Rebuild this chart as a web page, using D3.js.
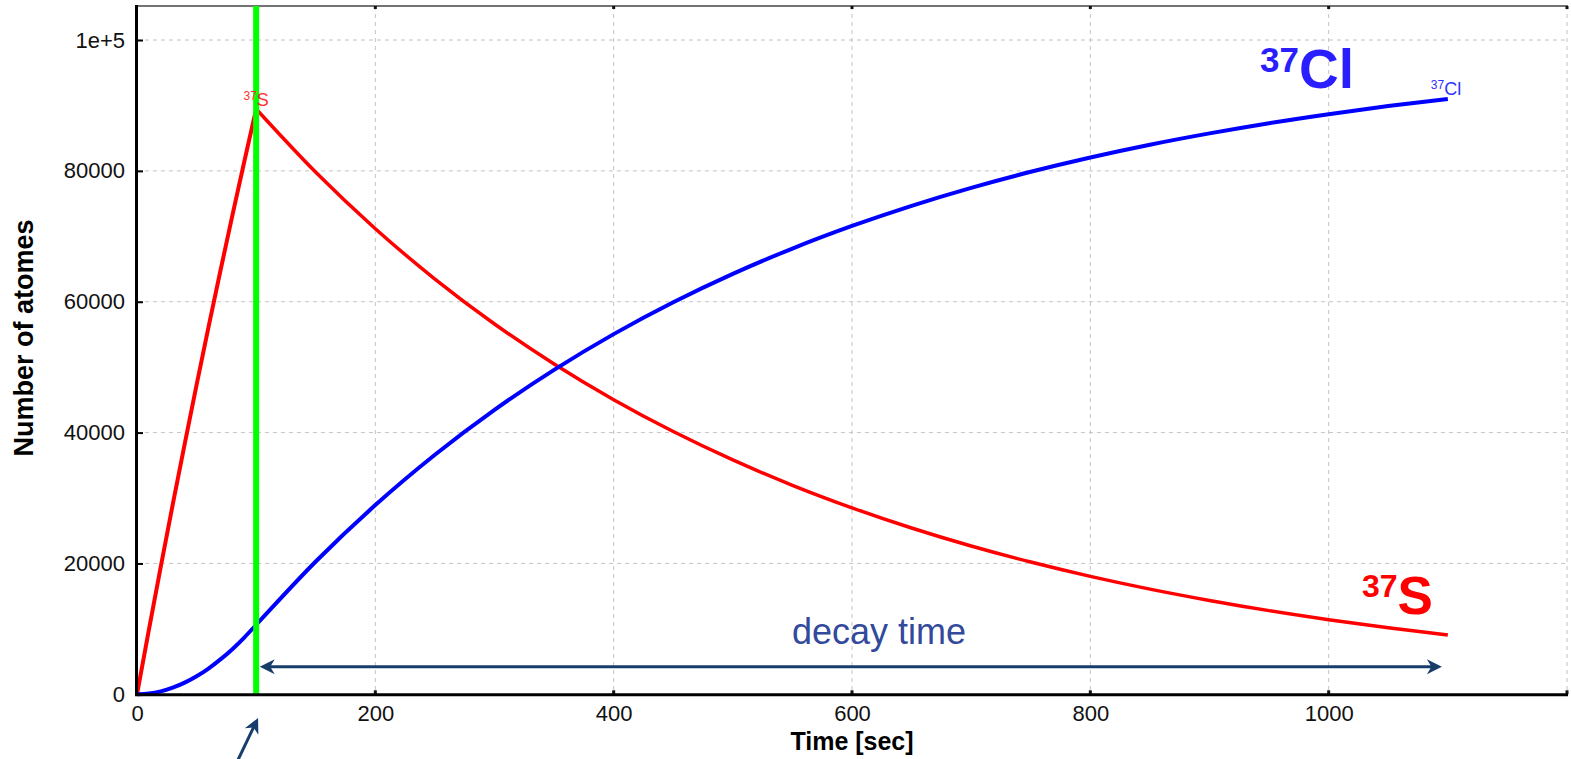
<!DOCTYPE html>
<html>
<head>
<meta charset="utf-8">
<script src="https://cdn.jsdelivr.net/npm/d3@7"></script>
<style>
  html, body { margin: 0; padding: 0; background: #fff; }
  svg { display: block; }
  text { font-family: "Liberation Sans", Arial, sans-serif; }
</style>
</head>
<body>
<svg id="chart" width="1571" height="759"></svg>
<script>
// ---- data ----
const times = [0, 10, 20, 30, 40, 50, 60, 70, 80, 90, 100,
  150, 200, 250, 300, 350, 400, 450, 500, 550, 600, 650,
  700, 750, 800, 850, 900, 950, 1000, 1050, 1100];
const s37 = [0, 9890, 19570, 29020, 38250, 47280, 56110, 64730, 73160, 81400, 89450,
  79780, 71160, 63470, 56600, 50490, 45030, 40160, 35820, 31950, 28500, 25420,
  22670, 20220, 18030, 16080, 14350, 12790, 11410, 10180, 9080];
const cl37 = [0, 110, 450, 1010, 1780, 2760, 3940, 5330, 6900, 8670, 10630,
  20300, 28920, 36610, 43480, 49590, 55050, 59920, 64260, 68130, 71580, 74660,
  77410, 79860, 82050, 84000, 85730, 87290, 88670, 89900, 91000];
const xTicks = [0, 200, 400, 600, 800, 1000];
const xGrid = [200, 400, 600, 800, 1000, 1200];
const yTicks = [0, 20000, 40000, 60000, 80000, 100000];
const yTickLabels = ["0", "20000", "40000", "60000", "80000", "1e+5"];
const xDomain = [0, 1200];
const yDomain = [0, 105200];
const irradiationEnd = 100;        // green line
const decaySpan = [103, 1095];     // arrow "decay time"
const decayArrowLevel = 4220;

// ---- layout ----
const svg = d3.select("#chart");
const pLeft = 137, pRight = 1567, pTop = 6, pBottom = 694.3;
const x = d3.scaleLinear().domain(xDomain).range([pLeft, pRight]);
const y = d3.scaleLinear().domain(yDomain).range([pBottom, pTop]);

// grid
const grid = svg.append("g").attr("stroke", "#c4c4c4").attr("stroke-width", 1).attr("stroke-dasharray", "4,4");
grid.selectAll("line.gx").data(xGrid).join("line")
  .attr("x1", d => x(d)).attr("x2", d => x(d)).attr("y1", pTop).attr("y2", pBottom);
grid.selectAll("line.gy").data(yTicks.filter(d => d > 0)).join("line")
  .attr("x1", pLeft).attr("x2", pRight).attr("y1", d => y(d)).attr("y2", d => y(d));

// top border
svg.append("line").attr("x1", pLeft - 1).attr("x2", pRight + 1).attr("y1", pTop).attr("y2", pTop)
  .attr("stroke", "#444").attr("stroke-width", 1.5);
svg.append("g").selectAll("rect").data(xGrid).join("rect")
  .attr("x", d => x(d) - 1.5).attr("y", pTop).attr("width", 3).attr("height", 3).attr("fill", "#111");

// y axis (inside ticks)
const yAxis = d3.axisLeft(y).tickValues(yTicks).tickSize(-6).tickPadding(12)
  .tickFormat((d, i) => yTickLabels[i]);
const gy = svg.append("g").attr("transform", `translate(${pLeft},0)`).call(yAxis);
gy.select(".domain").remove();
gy.selectAll(".tick line").attr("stroke", "#000").attr("stroke-width", 2);
gy.selectAll(".tick text").attr("font-size", 22).attr("fill", "#111")
  .attr("font-family", "'Liberation Sans', Arial, sans-serif").attr("x", -12);

// x axis
const xAxis = d3.axisBottom(x).tickValues(xTicks).tickSize(0).tickPadding(6).tickFormat(d3.format("d"));
const gx = svg.append("g").attr("transform", `translate(0,${pBottom})`).call(xAxis);
gx.select(".domain").remove();
gx.selectAll(".tick text").attr("font-size", 22).attr("fill", "#111")
  .attr("font-family", "'Liberation Sans', Arial, sans-serif").attr("dy", "0.95em");
svg.append("g").selectAll("rect").data(xGrid).join("rect")
  .attr("x", d => x(d) - 1.5).attr("y", pBottom - 4).attr("width", 3).attr("height", 4).attr("fill", "#111");

// curves
const pts = times.map((t, i) => ({ t, s: s37[i], c: cl37[i] }));
const lineS = d3.line().x(d => x(d.t)).y(d => y(d.s)).curve(d3.curveMonotoneX);
const lineC = d3.line().x(d => x(d.t)).y(d => y(d.c)).curve(d3.curveMonotoneX);
svg.append("path").datum(pts.filter(d => d.t <= irradiationEnd)).attr("d", lineS)
  .attr("fill", "none").attr("stroke", "#ff0000").attr("stroke-width", 4).attr("stroke-linejoin", "round");
svg.append("path").datum(pts.filter(d => d.t >= irradiationEnd)).attr("d", lineS)
  .attr("fill", "none").attr("stroke", "#ff0000").attr("stroke-width", 3.5).attr("stroke-linejoin", "round");
svg.append("path").datum(pts).attr("d", lineC)
  .attr("fill", "none").attr("stroke", "#0000ff").attr("stroke-width", 4).attr("stroke-linejoin", "round");

// green line
svg.append("line").attr("x1", x(irradiationEnd)).attr("x2", x(irradiationEnd))
  .attr("y1", pTop).attr("y2", pBottom).attr("stroke", "#00ff00").attr("stroke-width", 6);

// axes lines (drawn on top)
svg.append("line").attr("x1", pLeft - 0.5).attr("x2", pLeft - 0.5).attr("y1", pTop - 1).attr("y2", pBottom + 1.5)
  .attr("stroke", "#000").attr("stroke-width", 3);
svg.append("line").attr("x1", pLeft - 2).attr("x2", pRight + 1).attr("y1", pBottom + 0.5).attr("y2", pBottom + 0.5)
  .attr("stroke", "#000").attr("stroke-width", 3);

// axis titles
svg.append("text").attr("x", (pLeft + pRight) / 2).attr("y", 750)
  .attr("text-anchor", "middle").attr("font-size", 25).attr("font-weight", "bold").attr("fill", "#000")
  .text("Time [sec]");
svg.append("text").attr("transform", `translate(33,338) rotate(-90)`)
  .attr("text-anchor", "middle").attr("font-size", 27).attr("font-weight", "bold").attr("fill", "#000")
  .text("Number of atomes");

// small curve labels
const peak = pts.find(d => d.t === irradiationEnd);
const sLab = svg.append("text").attr("x", x(peak.t)).attr("y", y(peak.s) - 3)
  .attr("text-anchor", "middle").attr("fill", "#ff3030");
sLab.append("tspan").attr("font-size", 12).attr("dy", -6).text("37");
sLab.append("tspan").attr("font-size", 18).attr("dy", 6).text("S");

const last = pts[pts.length - 1];
const cLab = svg.append("text").attr("x", x(last.t) - 17).attr("y", y(last.c) - 4)
  .attr("fill", "#3030ff");
cLab.append("tspan").attr("font-size", 12).attr("dy", -6).text("37");
cLab.append("tspan").attr("font-size", 18).attr("dy", 6).text("Cl");

// big labels
const bigCl = svg.append("text").attr("x", 1260).attr("y", 88).attr("fill", "#2a1eff").attr("font-weight", "bold");
bigCl.append("tspan").attr("font-size", 35).attr("dy", -16).text("37");
bigCl.append("tspan").attr("font-size", 55).attr("dy", 16).text("Cl");

const bigS = svg.append("text").attr("x", 1362).attr("y", 614).attr("fill", "#ff0000").attr("font-weight", "bold");
bigS.append("tspan").attr("font-size", 32).attr("dy", -17).text("37");
bigS.append("tspan").attr("font-size", 53).attr("dy", 17).text("S");

// decay arrow
const arrowColor = "#173d6b";
const ay = y(decayArrowLevel);
const ax0 = x(decaySpan[0]), ax1 = x(decaySpan[1]);
svg.append("line").attr("x1", ax0 + 8).attr("x2", ax1 - 8).attr("y1", ay).attr("y2", ay)
  .attr("stroke", arrowColor).attr("stroke-width", 3);
const head = "M0,0 L-15,-7.5 L-10.5,0 L-15,7.5 Z";
svg.append("path").attr("d", head).attr("fill", arrowColor).attr("transform", `translate(${ax1},${ay})`);
svg.append("path").attr("d", head).attr("fill", arrowColor).attr("transform", `translate(${ax0},${ay}) rotate(180)`);
svg.append("text").attr("x", x(622.7)).attr("y", y(7690)).attr("text-anchor", "middle")
  .attr("font-size", 36).attr("fill", "#33499b").text("decay time");

// pointer arrow to the end of irradiation
const tip = [x(101.6), y(-3620)];
const tail = [x(83.9), y(-10350)];
const ang = Math.atan2(tip[1] - tail[1], tip[0] - tail[0]) * 180 / Math.PI;
const len = Math.hypot(tip[0] - tail[0], tip[1] - tail[1]);
const pg = svg.append("g").attr("transform", `translate(${tip[0]},${tip[1]}) rotate(${ang})`);
pg.append("line").attr("x1", -len).attr("x2", -8).attr("y1", 0).attr("y2", 0)
  .attr("stroke", arrowColor).attr("stroke-width", 3);
pg.append("path").attr("d", head).attr("fill", arrowColor);
</script>
</body>
</html>
